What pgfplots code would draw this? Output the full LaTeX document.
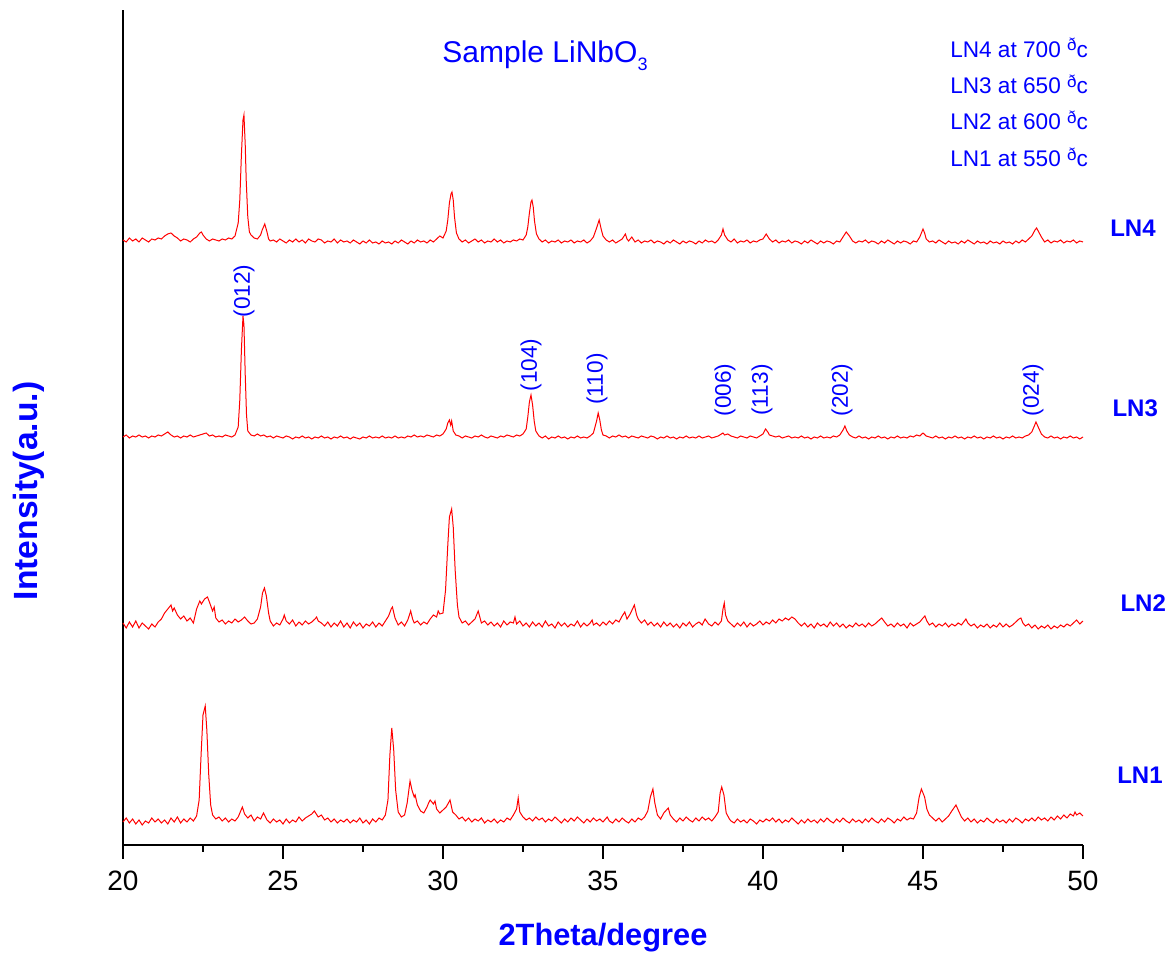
\documentclass[border=0pt]{standalone}
\usepackage{fontspec}
\setmainfont{Liberation Sans}
\usepackage{pgfplots}
\pgfplotsset{compat=1.18}
\definecolor{tblue}{RGB}{0,0,255}
\definecolor{tred}{RGB}{255,0,0}
\newcommand{\dg}{\raisebox{0.55ex}{\fontsize{8.5}{8}\selectfont ð}}
\begin{document}
\begin{tikzpicture}
\path[use as bounding box] (0,0) rectangle (584pt,476.5pt);
\begin{axis}[
  at={(61.5pt,54pt)}, anchor=south west,
  scale only axis, width=480pt, height=417.5pt,
  xmin=20, xmax=50, ymin=0, ymax=835,
  axis lines=left, axis line style={-},
  x axis line style={line width=1.2pt},
  y axis line style={line width=0.6pt},
  xtick={20,25,...,50}, minor x tick num=1, ytick=\empty,
  tick align=outside, major tick length=7pt, minor tick length=3.5pt,
  every tick/.style={black, line width=1pt},
  xticklabel style={font=\fontsize{14}{16}\selectfont, yshift=-2.5pt},
  /pgf/number format/assume math mode=true,
  clip=false,
  xlabel={2Theta/degree}, ylabel={Intensity(a.u.)},
  xlabel style={at={(axis description cs:0.5,-0.1114)}, anchor=center, font=\bfseries\fontsize{15.4}{18}\selectfont, text=tblue},
  ylabel style={at={(axis description cs:-0.0979,0.424)}, anchor=center, font=\bfseries\fontsize{16.8}{19}\selectfont, text=tblue},
]
% LN4
\addplot[tred, line width=0.5pt] coordinates {
(20.0,605) (20.1,603) (20.2,607) (20.3,604) (20.4,606) (20.5,603) (20.6,607) (20.7,605) (20.8,603) (20.9,606)
(21.0,605) (21.1,607) (21.2,606) (21.3,609) (21.4,611) (21.5,612) (21.6,609) (21.7,607) (21.8,604) (21.9,606)
(22.0,605) (22.1,603) (22.2,606) (22.3,608) (22.4,612) (22.45,613) (22.5,610) (22.6,606) (22.7,604) (22.8,606) (22.9,605)
(23.0,604) (23.1,606) (23.2,605) (23.3,607) (23.4,606) (23.5,609) (23.6,622) (23.65,645) (23.7,690) (23.75,725) (23.78,730) (23.82,700) (23.85,665) (23.9,628) (23.95,613)
(24.0,610) (24.1,607) (24.2,606) (24.3,610) (24.35,615) (24.43,621) (24.5,613) (24.55,606) (24.6,604) (24.7,605) (24.8,603) (24.9,606)
(25.0,604) (25.1,602) (25.2,605) (25.3,603) (25.4,606) (25.5,603) (25.6,605) (25.7,602) (25.8,606) (25.9,604)
(26.0,603) (26.1,606) (26.2,605) (26.3,602) (26.4,604) (26.5,603) (26.6,606) (26.7,602) (26.8,605) (26.9,603)
(27.0,604) (27.1,602) (27.2,605) (27.3,603) (27.4,601) (27.5,604) (27.6,602) (27.7,605) (27.8,602) (27.9,603)
(28.0,601) (28.1,604) (28.2,602) (28.3,603) (28.4,601) (28.5,604) (28.6,602) (28.7,605) (28.8,603) (28.9,601)
(29.0,604) (29.1,602) (29.2,605) (29.3,603) (29.4,604) (29.5,602) (29.6,605) (29.7,603) (29.8,606) (29.9,609)
(30.0,607) (30.1,614) (30.15,625) (30.2,642) (30.25,651) (30.28,653) (30.32,645) (30.36,628) (30.42,612) (30.5,606) (30.6,603) (30.7,605) (30.8,602) (30.9,604)
(31.0,606) (31.1,603) (31.2,605) (31.3,602) (31.4,604) (31.5,603) (31.6,606) (31.7,603) (31.8,605) (31.9,602)
(32.0,604) (32.1,603) (32.2,605) (32.3,604) (32.4,606) (32.5,605) (32.6,610) (32.65,618) (32.7,632) (32.75,643) (32.78,645) (32.82,638) (32.86,624) (32.92,611)
(33.0,606) (33.1,603) (33.2,605) (33.3,602) (33.4,604) (33.5,603) (33.6,605) (33.7,602) (33.8,604) (33.9,603)
(34.0,605) (34.1,602) (34.2,604) (34.3,603) (34.4,605) (34.5,602) (34.6,604) (34.7,608) (34.8,617) (34.88,625) (34.95,615)
(35.0,609) (35.1,605) (35.2,603) (35.3,605) (35.4,602) (35.5,604) (35.6,606) (35.7,611) (35.75,606) (35.8,604) (35.9,608)
(36.0,603) (36.1,605) (36.2,602) (36.3,604) (36.4,603) (36.5,605) (36.6,602) (36.7,604) (36.8,603) (36.9,601)
(37.0,604) (37.1,602) (37.2,605) (37.3,603) (37.4,601) (37.5,604) (37.6,602) (37.7,604) (37.8,603) (37.9,601)
(38.0,604) (38.1,602) (38.2,605) (38.3,603) (38.4,604) (38.5,602) (38.6,605) (38.7,610) (38.75,616) (38.8,610) (38.9,605)
(39.0,603) (39.1,606) (39.2,602) (39.3,604) (39.4,603) (39.5,605) (39.6,602) (39.7,604) (39.8,603) (39.9,605)
(40.0,606) (40.1,611) (40.2,606) (40.3,603) (40.4,605) (40.5,602) (40.6,604) (40.7,603) (40.8,605) (40.9,602)
(41.0,604) (41.1,603) (41.2,601) (41.3,604) (41.4,602) (41.5,605) (41.6,603) (41.7,601) (41.8,604) (41.9,602)
(42.0,604) (42.1,603) (42.2,601) (42.3,604) (42.4,603) (42.5,608) (42.6,613) (42.7,609) (42.8,604) (42.9,602)
(43.0,604) (43.1,603) (43.2,605) (43.3,602) (43.4,604) (43.5,603) (43.6,601) (43.7,604) (43.8,602) (43.9,605)
(44.0,603) (44.1,601) (44.2,604) (44.3,602) (44.4,604) (44.5,603) (44.6,601) (44.7,604) (44.8,603) (44.9,608)
(45.0,616) (45.05,612) (45.1,606) (45.2,603) (45.3,604) (45.4,602) (45.5,605) (45.6,603) (45.7,601) (45.8,604) (45.9,602)
(46.0,603) (46.1,601) (46.2,604) (46.3,602) (46.4,605) (46.5,603) (46.6,601) (46.7,604) (46.8,602) (46.9,603)
(47.0,601) (47.1,604) (47.2,602) (47.3,603) (47.4,601) (47.5,604) (47.6,602) (47.7,603) (47.8,601) (47.9,604)
(48.0,602) (48.1,605) (48.2,603) (48.3,606) (48.4,609) (48.5,615) (48.55,617) (48.6,614) (48.7,608) (48.8,603) (48.9,605)
(49.0,602) (49.1,604) (49.2,603) (49.3,605) (49.4,602) (49.5,604) (49.6,603) (49.7,605) (49.8,602) (49.9,604) (50.0,603)
};
% LN3
\addplot[tred, line width=0.5pt] coordinates {
(20.0,408) (20.1,410) (20.2,407) (20.3,409) (20.4,408) (20.5,410) (20.6,408) (20.7,409) (20.8,407) (20.9,409)
(21.0,408) (21.1,410) (21.2,409) (21.3,411) (21.4,413) (21.5,410) (21.6,408) (21.7,409) (21.8,407) (21.9,409)
(22.0,408) (22.1,410) (22.2,408) (22.3,409) (22.4,410) (22.5,411) (22.6,412) (22.7,409) (22.8,410) (22.9,408)
(23.0,409) (23.1,408) (23.2,410) (23.3,409) (23.4,408) (23.5,410) (23.6,418) (23.65,445) (23.7,495) (23.75,529) (23.78,520) (23.82,470) (23.86,430) (23.9,414)
(24.0,410) (24.1,409) (24.2,411) (24.3,409) (24.4,410) (24.5,408) (24.6,409) (24.7,407) (24.8,409) (24.9,408)
(25.0,407) (25.1,409) (25.2,408) (25.3,406) (25.4,408) (25.5,407) (25.6,409) (25.7,407) (25.8,408) (25.9,406)
(26.0,408) (26.1,407) (26.2,409) (26.3,407) (26.4,408) (26.5,406) (26.6,408) (26.7,407) (26.8,409) (26.9,407)
(27.0,408) (27.1,406) (27.2,408) (27.3,407) (27.4,406) (27.5,408) (27.6,407) (27.7,409) (27.8,407) (27.9,408)
(28.0,407) (28.1,409) (28.2,407) (28.3,408) (28.4,407) (28.5,409) (28.6,407) (28.7,408) (28.8,407) (28.9,409)
(29.0,408) (29.1,410) (29.2,408) (29.3,409) (29.4,408) (29.5,410) (29.6,409) (29.7,408) (29.8,410) (29.9,409)
(30.0,411) (30.1,416) (30.15,422) (30.2,425) (30.24,420) (30.27,424) (30.32,414) (30.4,410) (30.5,409) (30.6,407) (30.7,409) (30.8,408) (30.9,407)
(31.0,409) (31.1,408) (31.2,410) (31.3,408) (31.4,407) (31.5,409) (31.6,408) (31.7,407) (31.8,409) (31.9,408)
(32.0,410) (32.1,409) (32.2,408) (32.3,410) (32.4,409) (32.5,411) (32.6,416) (32.65,428) (32.7,443) (32.75,450) (32.8,440) (32.85,424) (32.9,414)
(33.0,409) (33.1,407) (33.2,409) (33.3,406) (33.4,408) (33.5,407) (33.6,409) (33.7,407) (33.8,408) (33.9,406)
(34.0,408) (34.1,407) (34.2,409) (34.3,407) (34.4,408) (34.5,407) (34.6,409) (34.7,412) (34.8,424) (34.85,432) (34.9,425) (34.95,415)
(35.0,410) (35.1,409) (35.2,407) (35.3,409) (35.4,408) (35.5,410) (35.6,408) (35.7,409) (35.8,407) (35.9,409)
(36.0,408) (36.1,407) (36.2,409) (36.3,408) (36.4,407) (36.5,409) (36.6,408) (36.7,406) (36.8,408) (36.9,407)
(37.0,409) (37.1,407) (37.2,408) (37.3,406) (37.4,408) (37.5,407) (37.6,409) (37.7,407) (37.8,408) (37.9,407)
(38.0,409) (38.1,407) (38.2,408) (38.3,409) (38.4,407) (38.5,408) (38.6,409) (38.7,411) (38.75,412) (38.8,410) (38.9,411)
(39.0,409) (39.1,408) (39.2,407) (39.3,409) (39.4,408) (39.5,407) (39.6,409) (39.7,408) (39.8,407) (39.9,409)
(40.0,411) (40.08,416) (40.15,413) (40.2,410) (40.3,409) (40.4,408) (40.5,409) (40.6,407) (40.7,408) (40.8,409) (40.9,407)
(41.0,408) (41.1,407) (41.2,409) (41.3,407) (41.4,408) (41.5,406) (41.6,408) (41.7,407) (41.8,409) (41.9,407)
(42.0,408) (42.1,407) (42.2,409) (42.3,408) (42.4,410) (42.5,415) (42.56,419) (42.62,414) (42.7,410) (42.8,408) (42.9,407)
(43.0,409) (43.1,407) (43.2,408) (43.3,406) (43.4,408) (43.5,407) (43.6,409) (43.7,407) (43.8,408) (43.9,406)
(44.0,408) (44.1,407) (44.2,409) (44.3,407) (44.4,408) (44.5,407) (44.6,409) (44.7,408) (44.8,410) (44.9,409)
(45.0,412) (45.1,409) (45.2,408) (45.3,407) (45.4,409) (45.5,407) (45.6,408) (45.7,406) (45.8,408) (45.9,407)
(46.0,409) (46.1,407) (46.2,408) (46.3,406) (46.4,408) (46.5,407) (46.6,409) (46.7,407) (46.8,408) (46.9,406)
(47.0,408) (47.1,407) (47.2,409) (47.3,407) (47.4,408) (47.5,406) (47.6,408) (47.7,407) (47.8,409) (47.9,407)
(48.0,408) (48.1,407) (48.2,409) (48.3,410) (48.4,413) (48.48,419) (48.53,423) (48.6,418) (48.7,411) (48.8,408) (48.9,407)
(49.0,409) (49.1,407) (49.2,408) (49.3,406) (49.4,408) (49.5,407) (49.6,409) (49.7,407) (49.8,408) (49.9,406) (50.0,408)
};
% LN2
\addplot[tred, line width=0.5pt] coordinates {
(20.0,222) (20.1,217) (20.2,223) (20.3,218) (20.4,224) (20.5,217) (20.6,222) (20.7,219) (20.8,216) (20.9,221)
(21.0,218) (21.1,223) (21.2,226) (21.3,232) (21.4,236) (21.5,240) (21.55,234) (21.6,237) (21.7,230) (21.8,226) (21.9,229)
(22.0,224) (22.1,227) (22.2,222) (22.3,236) (22.4,244) (22.45,241) (22.55,246) (22.64,248) (22.7,243) (22.8,234) (22.85,238) (22.9,227)
(23.0,223) (23.1,225) (23.2,221) (23.3,224) (23.4,222) (23.5,226) (23.6,223) (23.7,225) (23.8,228) (23.9,224)
(24.0,221) (24.1,222) (24.2,226) (24.3,238) (24.36,252) (24.42,257) (24.48,249) (24.55,232) (24.6,224) (24.7,219) (24.8,222) (24.9,220)
(25.0,226) (25.04,230) (25.1,224) (25.2,221) (25.3,225) (25.4,219) (25.5,223) (25.6,220) (25.7,224) (25.8,221) (25.9,223)
(26.0,226) (26.05,228) (26.1,224) (26.2,222) (26.3,219) (26.4,223) (26.5,218) (26.6,222) (26.7,219) (26.8,224) (26.9,218)
(27.0,222) (27.1,217) (27.2,223) (27.3,219) (27.4,222) (27.5,217) (27.6,221) (27.7,219) (27.8,223) (27.9,218)
(28.0,222) (28.1,219) (28.2,224) (28.3,229) (28.38,236) (28.42,238) (28.5,227) (28.6,220) (28.7,223) (28.8,219) (28.9,225) (28.99,234)
(29.05,226) (29.1,222) (29.2,224) (29.3,220) (29.4,223) (29.5,221) (29.6,226) (29.7,230) (29.8,228) (29.85,234) (29.9,231)
(30.0,232) (30.08,255) (30.15,300) (30.2,328) (30.27,336) (30.32,318) (30.38,275) (30.45,240) (30.5,228) (30.6,222) (30.7,224) (30.8,220) (30.9,223)
(31.0,226) (31.1,234) (31.15,228) (31.2,222) (31.3,224) (31.4,220) (31.5,223) (31.6,219) (31.7,222) (31.8,218) (31.9,224)
(32.0,220) (32.1,223) (32.2,222) (32.25,228) (32.3,221) (32.4,224) (32.5,219) (32.6,222) (32.7,218) (32.8,223) (32.9,219)
(33.0,222) (33.1,218) (33.2,224) (33.3,219) (33.4,221) (33.5,217) (33.6,223) (33.7,219) (33.8,222) (33.9,218)
(34.0,221) (34.1,219) (34.2,224) (34.3,218) (34.4,222) (34.5,219) (34.6,222) (34.66,225) (34.7,220) (34.8,222) (34.9,219)
(35.0,223) (35.1,220) (35.2,224) (35.3,221) (35.4,225) (35.5,223) (35.6,229) (35.68,233) (35.75,226) (35.85,231) (35.98,240)
(36.05,230) (36.1,226) (36.2,222) (36.3,225) (36.4,220) (36.5,223) (36.6,219) (36.7,222) (36.8,218) (36.9,223)
(37.0,219) (37.1,222) (37.2,218) (37.3,221) (37.4,217) (37.5,222) (37.6,219) (37.7,223) (37.8,218) (37.9,221)
(38.0,223) (38.1,220) (38.19,226) (38.3,221) (38.4,219) (38.5,223) (38.6,220) (38.7,224) (38.75,236) (38.79,242) (38.83,230) (38.9,224)
(39.0,221) (39.1,218) (39.2,222) (39.3,219) (39.4,223) (39.5,218) (39.6,222) (39.7,219) (39.8,221) (39.9,224)
(40.0,220) (40.1,223) (40.2,221) (40.3,225) (40.4,222) (40.5,226) (40.6,224) (40.7,227) (40.8,225) (40.9,228) (40.95,227)
(41.0,226) (41.1,222) (41.2,219) (41.3,222) (41.4,218) (41.5,221) (41.6,217) (41.7,222) (41.8,219) (41.9,221)
(42.0,218) (42.1,223) (42.2,219) (42.3,222) (42.4,218) (42.5,221) (42.6,217) (42.7,220) (42.8,218) (42.9,222)
(43.0,219) (43.1,221) (43.2,218) (43.3,222) (43.4,219) (43.5,221) (43.6,224) (43.71,227) (43.8,223) (43.9,219)
(44.0,221) (44.1,218) (44.2,222) (44.3,219) (44.4,221) (44.5,217) (44.6,222) (44.7,219) (44.8,221) (44.9,223)
(45.0,227) (45.06,229) (45.12,224) (45.2,220) (45.3,222) (45.4,218) (45.5,221) (45.6,219) (45.7,222) (45.8,218) (45.9,221)
(46.0,219) (46.1,222) (46.2,220) (46.34,226) (46.4,222) (46.5,219) (46.6,221) (46.7,217) (46.8,220) (46.9,218)
(47.0,221) (47.1,217) (47.2,220) (47.3,218) (47.4,222) (47.5,218) (47.6,221) (47.7,218) (47.8,220) (47.9,223)
(48.0,226) (48.06,227) (48.12,222) (48.2,219) (48.3,221) (48.4,217) (48.5,220) (48.6,216) (48.7,219) (48.8,217) (48.9,220)
(49.0,216) (49.1,219) (49.2,217) (49.3,220) (49.4,218) (49.5,221) (49.6,219) (49.7,222) (49.8,225) (49.9,221) (50.0,224)
};
% LN1
\addplot[tred, line width=0.5pt] coordinates {
(20.0,23) (20.1,27) (20.2,22) (20.3,26) (20.4,21) (20.5,25) (20.6,20) (20.7,24) (20.8,22) (20.9,27)
(21.0,23) (21.1,26) (21.2,22) (21.3,25) (21.4,21) (21.5,27) (21.6,23) (21.7,28) (21.8,22) (21.9,26)
(22.0,23) (22.1,27) (22.2,24) (22.3,29) (22.38,45) (22.44,90) (22.5,130) (22.57,139) (22.62,115) (22.68,70) (22.74,40) (22.8,30) (22.9,26)
(23.0,28) (23.1,24) (23.2,27) (23.3,23) (23.4,26) (23.5,24) (23.6,28) (23.73,38) (23.8,31) (23.9,27)
(24.0,30) (24.1,24) (24.2,28) (24.3,26) (24.39,32) (24.5,25) (24.6,22) (24.7,26) (24.8,23) (24.9,25)
(25.0,21) (25.1,26) (25.2,22) (25.3,25) (25.4,23) (25.5,28) (25.6,24) (25.7,27) (25.8,29) (25.9,31) (25.98,34)
(26.1,28) (26.2,30) (26.3,25) (26.4,27) (26.5,23) (26.6,26) (26.7,22) (26.8,25) (26.9,23)
(27.0,26) (27.1,22) (27.2,25) (27.3,23) (27.4,27) (27.5,22) (27.6,25) (27.7,21) (27.8,26) (27.9,23)
(28.0,27) (28.1,25) (28.2,30) (28.28,45) (28.34,90) (28.4,117) (28.46,95) (28.52,55) (28.6,33) (28.7,28) (28.8,30) (28.88,42) (28.97,64)
(29.03,55) (29.1,48) (29.13,50) (29.2,40) (29.3,34) (29.4,32) (29.5,38) (29.55,42) (29.6,45) (29.7,41) (29.75,44) (29.8,36) (29.9,32)
(30.0,35) (30.1,38) (30.22,45) (30.3,33) (30.4,30) (30.5,26) (30.6,28) (30.7,24) (30.8,27) (30.9,23)
(31.0,26) (31.1,24) (31.2,27) (31.3,22) (31.4,25) (31.5,23) (31.6,26) (31.7,22) (31.8,25) (31.9,23)
(32.0,27) (32.1,25) (32.2,30) (32.3,36) (32.35,47) (32.4,33) (32.5,28) (32.6,25) (32.7,27) (32.8,24) (32.9,28)
(33.0,25) (33.1,27) (33.2,23) (33.3,26) (33.4,24) (33.5,28) (33.6,25) (33.7,22) (33.8,26) (33.9,23)
(34.0,27) (34.1,24) (34.2,28) (34.3,25) (34.4,22) (34.5,26) (34.6,23) (34.7,27) (34.8,24) (34.9,26)
(35.0,23) (35.13,28) (35.2,24) (35.3,22) (35.4,26) (35.5,23) (35.6,27) (35.7,24) (35.8,22) (35.9,26)
(36.0,23) (36.1,27) (36.2,25) (36.3,28) (36.4,34) (36.48,48) (36.56,56) (36.62,42) (36.7,30) (36.8,26) (36.9,32)
(37.04,37) (37.1,30) (37.2,26) (37.3,23) (37.4,27) (37.5,24) (37.6,28) (37.7,25) (37.8,23) (37.9,27)
(38.0,24) (38.1,28) (38.2,25) (38.3,27) (38.4,24) (38.5,28) (38.6,33) (38.66,52) (38.71,58) (38.78,50) (38.85,32) (38.95,26)
(39.0,24) (39.1,22) (39.2,26) (39.3,23) (39.4,25) (39.5,22) (39.6,26) (39.7,24) (39.8,21) (39.9,25)
(40.0,23) (40.1,26) (40.2,24) (40.3,27) (40.4,23) (40.5,26) (40.6,22) (40.7,25) (40.8,23) (40.9,27)
(41.0,24) (41.1,21) (41.2,25) (41.3,22) (41.4,26) (41.5,23) (41.6,25) (41.7,22) (41.8,26) (41.9,23)
(42.0,27) (42.1,24) (42.2,22) (42.3,26) (42.4,23) (42.5,27) (42.6,24) (42.7,22) (42.8,26) (42.9,23)
(43.0,25) (43.1,22) (43.2,26) (43.3,23) (43.4,27) (43.5,24) (43.6,22) (43.7,26) (43.8,23) (43.9,27)
(44.0,25) (44.1,22) (44.2,26) (44.3,24) (44.4,28) (44.5,25) (44.6,27) (44.7,26) (44.8,32) (44.88,48) (44.95,56)
(45.0,52) (45.05,48) (45.12,36) (45.2,30) (45.3,27) (45.4,24) (45.5,27) (45.6,23) (45.7,26) (45.8,29) (45.9,34)
(46.03,40) (46.1,35) (46.2,28) (46.3,24) (46.4,27) (46.5,23) (46.6,26) (46.7,22) (46.8,25) (46.9,23)
(47.0,27) (47.1,24) (47.2,22) (47.3,26) (47.4,23) (47.5,25) (47.6,22) (47.7,26) (47.8,23) (47.9,27)
(48.0,25) (48.1,22) (48.2,26) (48.3,24) (48.4,27) (48.5,24) (48.6,28) (48.7,25) (48.8,27) (48.9,24)
(49.0,28) (49.1,25) (49.2,29) (49.3,26) (49.4,30) (49.5,27) (49.6,31) (49.7,29) (49.75,33) (49.8,30) (49.9,32) (50.0,29)
};
% title and legend text
\node[anchor=base west, text=tblue, font=\fontsize{15}{17}\selectfont, inner sep=0pt] at (axis cs:29.97,782) {Sample LiNbO\raisebox{-0.45ex}{\fontsize{9}{9}\selectfont 3}};
\begin{scope}[every node/.style={anchor=base west, text=tblue, font=\fontsize{11.3}{13}\selectfont, inner sep=0pt}]
\node at (axis cs:45.84,787.7) {LN4 at 700 \dg c};
\node at (axis cs:45.84,751) {LN3 at 650 \dg c};
\node at (axis cs:45.84,715) {LN2 at 600 \dg c};
\node at (axis cs:45.84,678.3) {LN1 at 550 \dg c};
\end{scope}
% series labels
\begin{scope}[every node/.style={anchor=west, text=tblue, font=\bfseries\fontsize{12}{14}\selectfont, inner sep=0pt}]
\node at (axis cs:50.84,617) {LN4};
\node at (axis cs:50.91,437) {LN3};
\node at (axis cs:51.16,242) {LN2};
\node at (axis cs:51.06,70) {LN1};
\end{scope}
% peak labels
\begin{scope}[every node/.style={rotate=90, anchor=center, text=tblue, font=\fontsize{11.3}{12}\selectfont, inner sep=0pt}]
\node at (axis cs:23.78,554) {(012)};
\node at (axis cs:32.75,480) {(104)};
\node at (axis cs:34.81,466) {(110)};
\node at (axis cs:38.81,455) {(006)};
\node at (axis cs:39.97,455) {(113)};
\node at (axis cs:42.47,455) {(202)};
\node at (axis cs:48.44,455) {(024)};
\end{scope}
\end{axis}
\end{tikzpicture}
\end{document}
